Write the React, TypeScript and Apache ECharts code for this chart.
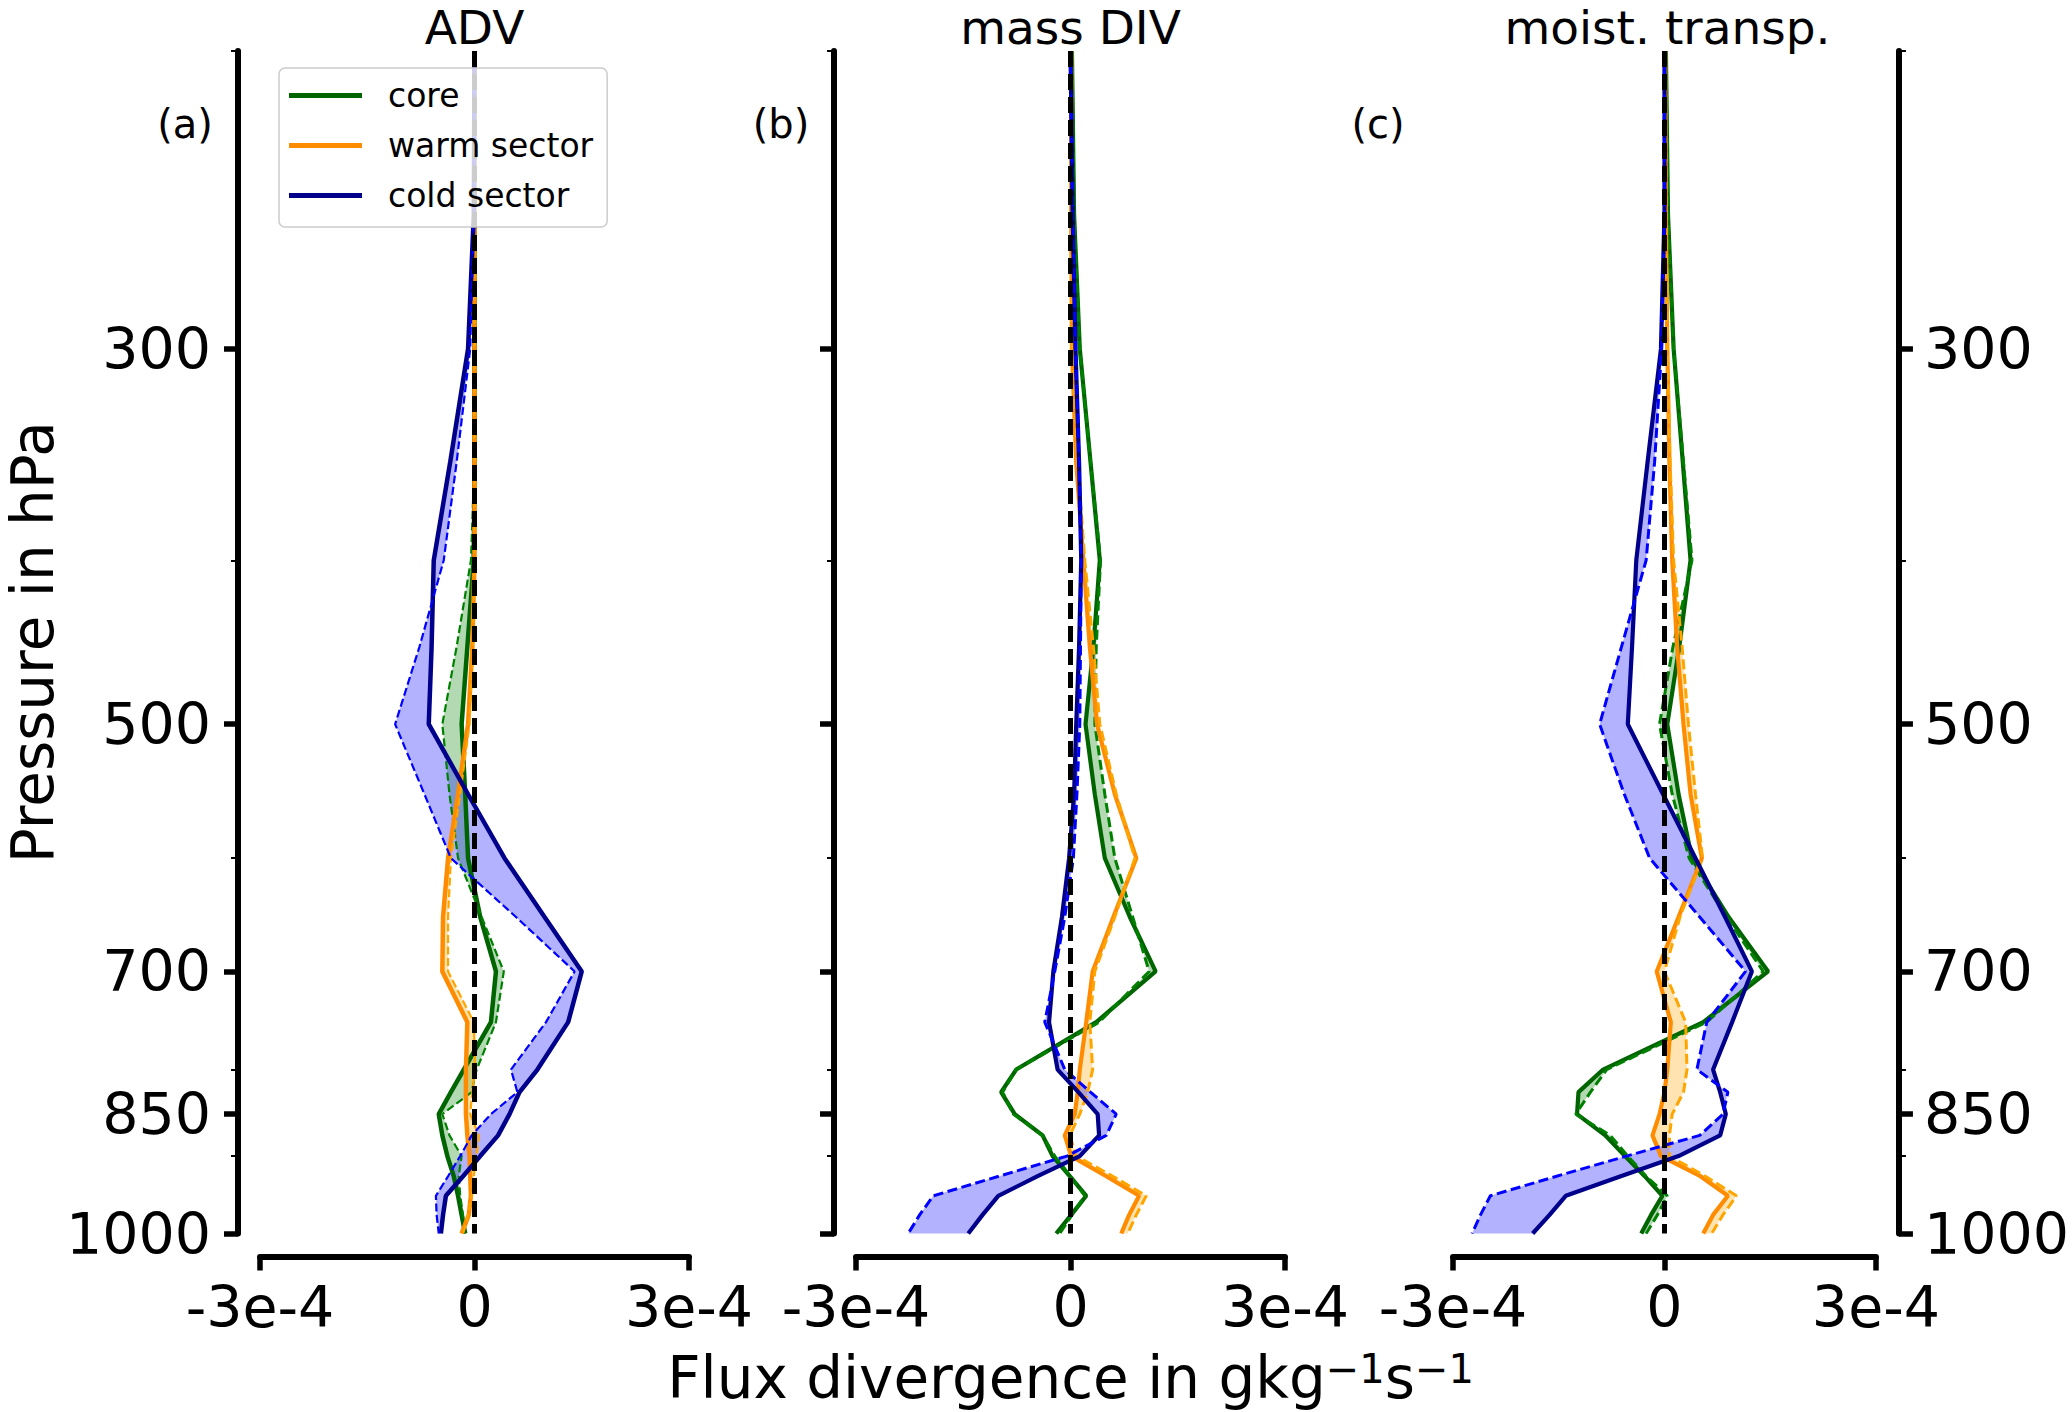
import { useEffect, useRef } from 'react';
import * as echarts from 'echarts';

// pressure levels (hPa), top to bottom
const levels = [200, 250, 300, 350, 400, 450, 500, 550, 600, 650, 700, 750, 800, 825, 850, 875, 900, 925, 950, 975, 1000];

// flux divergence in 1e-4 g kg-1 s-1, solid = full run, dashed = comparison run
const advCore = [0, 0, 0, 0, -0.01, -0.1, -0.18, -0.13, -0.09, 0.08, 0.3, 0.23, -0.15, -0.33, -0.5, -0.45, -0.38, -0.29, -0.23, -0.18, -0.13];
const advCoreDash = [0, 0, 0, 0, -0.05, -0.25, -0.45, -0.35, -0.23, 0.1, 0.41, 0.3, 0.03, -0.04, -0.45, -0.35, -0.18, -0.22, -0.2, -0.16, -0.13];
const advWarm = [0, 0, 0, 0, 0, -0.03, -0.09, -0.23, -0.37, -0.44, -0.45, -0.1, -0.12, -0.12, -0.12, -0.1, -0.07, -0.06, -0.05, -0.08, -0.18];
const advWarmDash = [0, 0, 0, 0, 0, -0.02, -0.07, -0.2, -0.33, -0.37, -0.37, -0.01, 0.01, -0.03, -0.06, 0.06, 0.03, -0.01, -0.04, -0.09, -0.16];
const advCold = [0, -0.01, -0.09, -0.34, -0.57, -0.6, -0.64, -0.09, 0.42, 0.98, 1.5, 1.31, 0.88, 0.63, 0.49, 0.33, 0.08, -0.16, -0.4, -0.44, -0.47];
const advColdDash = [0, -0.01, -0.06, -0.25, -0.43, -0.77, -1.11, -0.7, -0.33, 0.58, 1.4, 1.0, 0.51, 0.6, 0.23, -0.04, -0.2, -0.37, -0.54, -0.53, -0.5];

const divCore = [0.02, 0.05, 0.13, 0.28, 0.41, 0.32, 0.21, 0.34, 0.48, 0.83, 1.19, 0.36, -0.76, -0.97, -0.78, -0.39, -0.25, -0.01, 0.22, 0.01, -0.2];
const divCoreDash = [0.02, 0.05, 0.13, 0.28, 0.42, 0.36, 0.34, 0.48, 0.62, 0.87, 1.1, 0.4, -0.76, -0.95, -0.8, -0.39, -0.22, 0.0, 0.2, 0.02, -0.15];
const divWarm = [0.01, 0.01, 0.02, 0.08, 0.18, 0.27, 0.37, 0.62, 0.92, 0.6, 0.31, 0.22, 0.13, 0.1, 0.06, -0.08, 0.01, 0.5, 0.96, 0.82, 0.71];
const divWarmDash = [0.01, 0.01, 0.02, 0.1, 0.2, 0.32, 0.41, 0.64, 0.9, 0.62, 0.34, 0.27, 0.31, 0.24, 0.13, -0.01, 0.08, 0.59, 1.06, 0.92, 0.8];
const divCold = [0, 0.03, 0.07, 0.12, 0.15, 0.12, 0.08, 0.05, -0.02, -0.12, -0.24, -0.3, -0.18, 0.11, 0.38, 0.4, 0.13, -0.46, -1.01, -1.23, -1.43];
const divColdDash = [0, 0.03, 0.07, 0.12, 0.15, 0.14, 0.13, 0.09, 0.04, -0.08, -0.22, -0.36, -0.08, 0.28, 0.64, 0.5, -0.05, -1.0, -1.92, -2.11, -2.27];

const mtCore = [0.02, 0.05, 0.13, 0.26, 0.37, 0.21, 0.04, 0.2, 0.39, 0.91, 1.47, 0.55, -0.87, -1.22, -1.24, -0.84, -0.56, -0.28, -0.03, -0.19, -0.33];
const mtCoreDash = [0.02, 0.05, 0.13, 0.27, 0.39, 0.12, -0.07, 0.11, 0.35, 0.88, 1.4, 0.6, -0.82, -1.05, -1.26, -0.77, -0.52, -0.26, 0.04, -0.1, -0.26];
const mtWarm = [0.01, 0.02, 0.04, 0.07, 0.11, 0.18, 0.27, 0.37, 0.53, 0.2, -0.11, 0.09, 0.04, 0, -0.07, -0.17, -0.05, 0.51, 0.9, 0.69, 0.55];
const mtWarmDash = [0.01, 0.02, 0.04, 0.08, 0.13, 0.25, 0.34, 0.44, 0.54, 0.22, 0.0, 0.3, 0.32, 0.27, 0.11, 0.07, 0.07, 0.58, 1.02, 0.83, 0.67];
const mtCold = [0, 0, -0.05, -0.24, -0.4, -0.46, -0.52, -0.02, 0.44, 0.86, 1.24, 0.96, 0.69, 0.79, 0.87, 0.79, 0.2, -0.62, -1.4, -1.63, -1.87];
const mtColdDash = [0, 0, -0.04, -0.14, -0.26, -0.61, -0.92, -0.57, -0.21, 0.5, 1.15, 0.6, 0.46, 0.9, 0.83, 0.5, -0.54, -1.53, -2.47, -2.61, -2.73];

const UNIT = 1e-4;
const yMajor = [300, 500, 700, 850, 1000];
const yMinor = [200, 400, 600, 800, 900];
const xTicks = [-3e-4, 0, 3e-4];
const xTickLabels = ['-3e-4', '0', '3e-4'];
const panelTitles = ['ADV', 'mass DIV', 'moist. transp.'];
const panelLabels = ['(a)', '(b)', '(c)'];
const sectorNames = ['core', 'warm sector', 'cold sector'];

const panels = [
  [[advCore, advCoreDash], [advWarm, advWarmDash], [advCold, advColdDash]],
  [[divCore, divCoreDash], [divWarm, divWarmDash], [divCold, divColdDash]],
  [[mtCore, mtCoreDash], [mtWarm, mtWarmDash], [mtCold, mtColdDash]],
];

const solidColors = ['#006400', '#ff8c00', '#00008b'];
const dashColors = ['#008000', '#ffa500', '#0000ff'];
const fillColors = ['rgba(0,128,0,0.3)', 'rgba(255,165,0,0.3)', 'rgba(0,0,255,0.3)'];

const FONT = 'DejaVu Sans';
const gridLeft = [260, 856, 1453];
const gridWidth = 429;
const gridTop = 51;
const gridHeight = 1182.5;

const lg = (p: number) => Math.log10(p);
const toPoints = (vals: number[]) => vals.map((v, i) => [v * UNIT, lg(levels[i])]);

const App = () => {
  const chartRef = useRef<HTMLDivElement>(null);

  useEffect(() => {
    document.body.style.margin = '0';
    document.body.style.overflow = 'hidden';
    if (!chartRef.current) return;
    const myChart = echarts.init(chartRef.current, null, { renderer: 'svg' });

    const yAxisBase = {
      type: 'value',
      min: lg(200),
      max: lg(1000),
      inverse: true,
      splitLine: { show: false },
    };

    const majorY = (grid: number, position: string, showLabel: boolean, extra = {}) => ({
      ...yAxisBase,
      gridIndex: grid,
      position,
      offset: position === 'left' ? 22 : 23,
      axisLine: { show: true, onZero: false, lineStyle: { color: '#000', width: 6 } },
      axisTick: {
        show: true,
        length: 14,
        customValues: yMajor.map(lg),
        lineStyle: { color: '#000', width: 5.5 },
      },
      axisLabel: {
        show: showLabel,
        customValues: yMajor.map(lg),
        formatter: (v: number) => String(Math.round(Math.pow(10, v))),
        fontFamily: FONT,
        fontSize: 57,
        color: '#000',
        margin: position === 'left' ? 27 : 25,
      },
      ...extra,
    });

    const minorY = (grid: number, position: string) => ({
      ...yAxisBase,
      gridIndex: grid,
      position,
      offset: position === 'left' ? 22 : 23,
      axisLine: { show: false, onZero: false },
      axisTick: {
        show: true,
        length: 7,
        customValues: yMinor.map(lg),
        lineStyle: { color: '#000', width: 2 },
      },
      axisLabel: { show: false },
    });

    const yAxis = [
      majorY(0, 'left', true, {
        name: 'Pressure in hPa',
        nameLocation: 'middle',
        nameGap: 179,
        nameTextStyle: { fontFamily: FONT, fontSize: 58, lineHeight: 48, color: '#000' },
      }),
      minorY(0, 'left'),
      majorY(1, 'left', false),
      minorY(1, 'left'),
      majorY(2, 'right', true),
      minorY(2, 'right'),
    ];

    const xAxis = [0, 1, 2].map((p) => ({
      type: 'value',
      gridIndex: p,
      min: -3e-4,
      max: 3e-4,
      position: 'bottom',
      offset: 23,
      splitLine: { show: false },
      axisLine: { show: true, onZero: false, lineStyle: { color: '#000', width: 6 } },
      axisTick: { show: true, length: 14, customValues: xTicks, lineStyle: { color: '#000', width: 5.5 } },
      axisLabel: {
        customValues: xTicks,
        formatter: (v: number) => {
          let best = 0;
          xTicks.forEach((t, i) => {
            if (Math.abs(t - v) < Math.abs(xTicks[best] - v)) best = i;
          });
          return xTickLabels[best];
        },
        fontFamily: FONT,
        fontSize: 57,
        color: '#000',
        margin: 22,
      },
      ...(p === 1
        ? {
            name: 'Flux divergence in gkg{sup|−1}s{sup|−1}',
            nameLocation: 'middle',
            nameGap: 92,
            nameTextStyle: {
              fontFamily: FONT,
              fontSize: 58,
              color: '#000',
              rich: {
                sup: { fontFamily: FONT, fontSize: 40, color: '#000', verticalAlign: 'top', lineHeight: 27 },
              },
            },
          }
        : {}),
    }));

    const series: any[] = [];
    panels.forEach((sectors, p) => {
      const solidW = p === 0 ? 4.5 : 4.2;
      const dashW = p === 0 ? 2.2 : 3;
      const dashPat = p === 0 ? [8, 3.5] : [10, 4.5];
      // shaded spread between the two runs
      sectors.forEach(([sol, dash], s) => {
        const pts = [...toPoints(sol), ...toPoints(dash).reverse()];
        series.push({
          type: 'custom',
          xAxisIndex: p,
          yAxisIndex: 2 * p,
          silent: true,
          z: 1,
          clip: false,
          data: pts,
          renderItem: (params: any, api: any) => {
            if (params.dataIndex !== 0) return null;
            return {
              type: 'polygon',
              shape: { points: pts.map((pt) => api.coord(pt)) },
              style: { fill: fillColors[s], stroke: 'none' },
            };
          },
        });
      });
      sectors.forEach(([sol, dash], s) => {
        series.push({
          type: 'line',
          name: sectorNames[s],
          xAxisIndex: p,
          yAxisIndex: 2 * p,
          data: toPoints(sol),
          symbol: 'none',
          showSymbol: false,
          silent: true,
          z: 2,
          lineStyle: { color: solidColors[s], width: solidW },
          itemStyle: { color: solidColors[s] },
        });
        series.push({
          type: 'line',
          name: sectorNames[s] + ' (dashed)',
          xAxisIndex: p,
          yAxisIndex: 2 * p,
          data: toPoints(dash),
          symbol: 'none',
          showSymbol: false,
          silent: true,
          z: 2,
          lineStyle: { color: dashColors[s], width: dashW, type: dashPat },
          itemStyle: { color: dashColors[s] },
        });
      });
      // zero reference line
      series.push({
        type: 'line',
        name: 'zero',
        xAxisIndex: p,
        yAxisIndex: 2 * p,
        data: [],
        z: 3,
        silent: true,
        markLine: {
          silent: true,
          symbol: 'none',
          label: { show: false },
          lineStyle: { color: '#000', width: 5, type: [16, 7] },
          emphasis: { disabled: true },
          data: [{ xAxis: 0 }],
        },
      });
    });

    const graphic: any[] = [];
    [0, 1, 2].forEach((p) => {
      const cx = gridLeft[p] + gridWidth / 2;
      graphic.push({
        type: 'text',
        x: cx,
        y: 27,
        style: {
          text: panelTitles[p],
          fontFamily: FONT,
          fontSize: 47,
          fill: '#000',
          align: 'center',
          verticalAlign: 'middle',
        },
      });
      graphic.push({
        type: 'text',
        x: cx - 289.5,
        y: 124,
        style: { text: panelLabels[p], fontFamily: FONT, fontSize: 40, fill: '#000', align: 'center', verticalAlign: 'middle' },
      });
    });

    const option = {
      animation: false,
      backgroundColor: '#fff',
      grid: gridLeft.map((left) => ({ left, top: gridTop, width: gridWidth, height: gridHeight, containLabel: false })),
      xAxis,
      yAxis,
      legend: {
        show: true,
        orient: 'vertical',
        left: 279,
        top: 68,
        data: sectorNames,
        icon: 'rect',
        itemWidth: 73,
        itemHeight: 5,
        itemGap: 17,
        padding: [11, 14, 15, 10],
        backgroundColor: 'rgba(255,255,255,0.8)',
        borderColor: '#cccccc',
        borderWidth: 1.5,
        borderRadius: 6,
        selectedMode: false,
        z: 10,
        textStyle: { fontFamily: FONT, fontSize: 33, color: '#000', padding: [0, 0, 0, 21] },
      },
      graphic,
      series,
    };

    myChart.setOption(option);

    const handleResize = () => myChart.resize();
    window.addEventListener('resize', handleResize);

    return () => {
      window.removeEventListener('resize', handleResize);
      myChart.dispose();
    };
  }, []);

  return <div ref={chartRef} style={{ width: 2072, height: 1412 }} />;
};

export default App;
